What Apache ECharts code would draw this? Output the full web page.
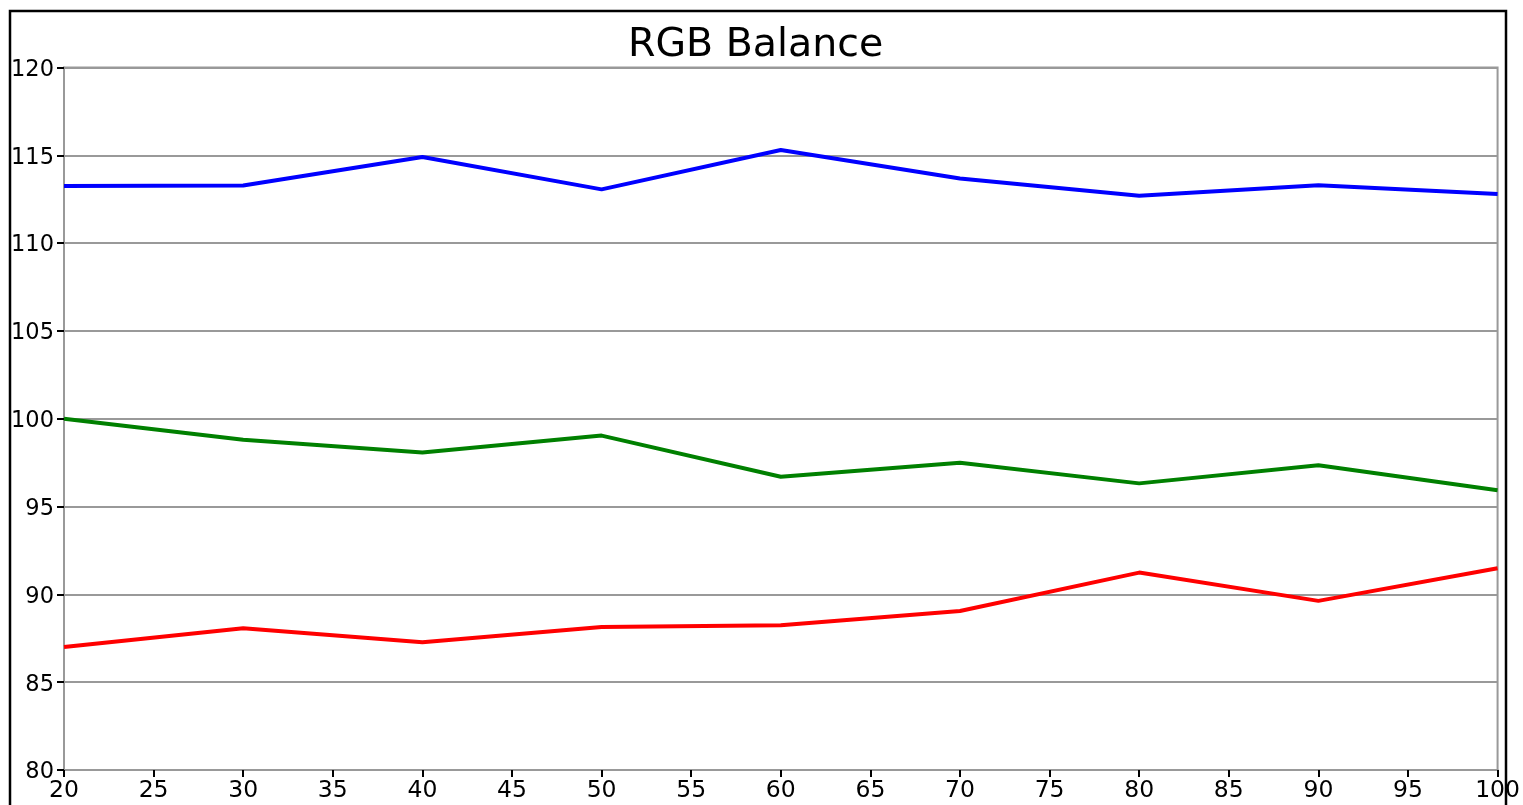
<!DOCTYPE html>
<html>
<head>
<meta charset="utf-8">
<title>RGB Balance</title>
<script src="https://cdn.jsdelivr.net/npm/echarts@6/dist/echarts.min.js"></script>
<style>
  html, body { margin: 0; padding: 0; background: #fff; }
  #main { width: 1523px; height: 805px; }
</style>
</head>
<body>
<div id="main"></div>
<script>
// 数据 (x = 20..100)
var xValues = [20, 30, 40, 50, 60, 70, 80, 90, 100];
var blueValues = [113.25, 113.28, 114.9, 113.06, 115.3, 113.68, 112.7, 113.3, 112.8];
var greenValues = [100.0, 98.8, 98.08, 99.04, 96.7, 97.5, 96.32, 97.35, 95.93];
var redValues = [87.0, 88.07, 87.28, 88.14, 88.24, 89.05, 91.24, 89.63, 91.49];

function pairs(values) {
  var out = [];
  for (var i = 0; i < xValues.length; i++) {
    out.push([xValues[i], values[i]]);
  }
  return out;
}

var chart = echarts.init(document.getElementById('main'), null, { renderer: 'canvas' });

var font = 'DejaVu Sans';

var option = {
  animation: false,
  backgroundColor: '#fff',
  title: {
    text: 'RGB Balance',
    left: 623,
    top: 21,
    textStyle: {
      fontFamily: font,
      fontSize: 39.5,
      fontWeight: 'normal',
      color: '#000'
    }
  },
  graphic: [
    {
      // 外框
      type: 'rect',
      shape: { x: 10, y: 11, width: 1496, height: 810 },
      style: { fill: 'none', stroke: '#000', lineWidth: 2.5 },
      z: 100
    }
  ],
  grid: {
    left: 64,
    right: 23,
    top: 67.5,
    bottom: 35,
    show: true,
    borderColor: '#999',
    borderWidth: 2
  },
  xAxis: {
    type: 'value',
    min: 20,
    max: 100,
    interval: 5,
    axisLine: { lineStyle: { color: '#999', width: 2 } },
    axisTick: { show: true, length: 7, lineStyle: { color: '#000', width: 2 } },
    axisLabel: {
      fontFamily: font,
      fontSize: 23.5,
      color: '#000',
      margin: 9
    },
    splitLine: { show: false }
  },
  yAxis: {
    type: 'value',
    min: 80,
    max: 120,
    interval: 5,
    axisLine: { show: true, lineStyle: { color: '#999', width: 2 } },
    axisTick: { show: true, length: 7, lineStyle: { color: '#000', width: 2 } },
    axisLabel: {
      fontFamily: font,
      fontSize: 22.5,
      color: '#000',
      margin: 10,
      formatter: '{v|{value}}',
      rich: {
        v: {
          fontFamily: font,
          fontSize: 22.5,
          color: '#000',
          padding: [5, 0, 0, 0]
        }
      }
    },
    splitLine: { show: true, lineStyle: { color: '#999', width: 2 } }
  },
  series: [
    {
      name: 'Blue',
      type: 'line',
      data: pairs(blueValues),
      showSymbol: false,
      lineStyle: { color: '#0000ff', width: 4 },
      itemStyle: { color: '#0000ff' }
    },
    {
      name: 'Green',
      type: 'line',
      data: pairs(greenValues),
      showSymbol: false,
      lineStyle: { color: '#008000', width: 4 },
      itemStyle: { color: '#008000' }
    },
    {
      name: 'Red',
      type: 'line',
      data: pairs(redValues),
      showSymbol: false,
      lineStyle: { color: '#ff0000', width: 4 },
      itemStyle: { color: '#ff0000' }
    }
  ]
};

chart.setOption(option);
</script>
</body>
</html>
